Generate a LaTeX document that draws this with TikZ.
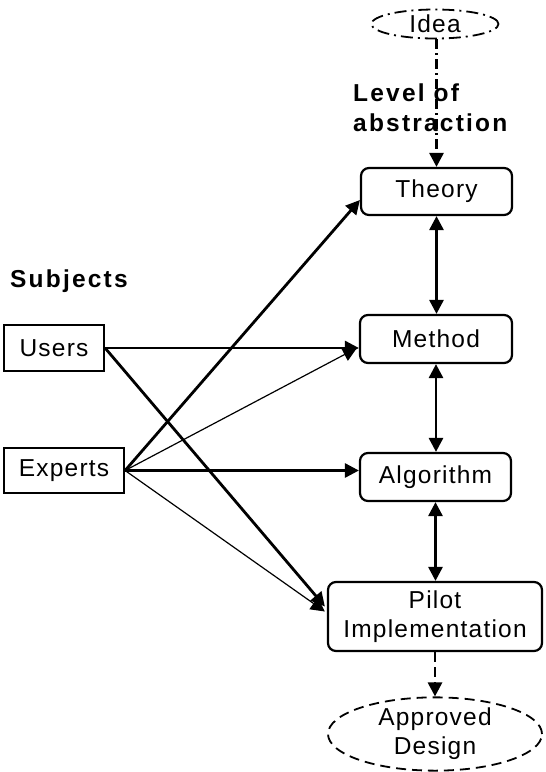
\documentclass[tikz,border=0pt]{standalone}
\usepackage{fontspec}
\setmainfont{Liberation Sans}
\newfontfamily\boxfont{Liberation Sans}[LetterSpace=5]
\newfontfamily\labfont{Liberation Sans}[LetterSpace=9]
\usetikzlibrary{arrows.meta,shapes.geometric,calc}
\begin{document}
\begin{tikzpicture}[x=1pt,y=-1pt,
  box/.style={draw,line width=2.2pt,minimum width=#1,inner sep=0pt,font=\boxfont\fontsize{24.5}{28}\selectfont,align=center},
  rbox/.style={box=#1,rounded corners=8pt},
  lab/.style={anchor=base west,inner sep=0pt,font=\labfont\bfseries\fontsize{24.5}{28}\selectfont},
  tip/.style={-{Triangle[length=14pt,width=14pt]}},
  dtip/.style={{Triangle[length=14pt,width=14pt]}-{Triangle[length=14pt,width=14pt]}},
  thickarr/.style={tip,line width=2.8pt},
  thinarr/.style={tip,line width=1.2pt},
  ell/.style={ellipse,draw,line width=1.8pt,inner sep=0pt,font=\boxfont\fontsize{24.5}{28}\selectfont,align=center}
]
\useasboundingbox (0,0) rectangle (546,772);

\node[ell,minimum width=127pt,minimum height=29pt,dash pattern=on 12pt off 5pt on 2pt off 5pt] (idea) at (435,24) {Idea};
\node[rbox=151pt,minimum height=47pt] (theory) at (436.5,191.5) {Theory};
\node[rbox=152pt,minimum height=48pt] (method) at (436,339) {Method};
\node[rbox=151pt,minimum height=48pt] (algo) at (435.5,477) {Algorithm};
\node[rbox=214pt,minimum height=69pt] (pilot) at (435,616.5) {Pilot\\[1pt]Implementation};
\node[ell,minimum width=214pt,minimum height=68pt,dash pattern=on 10pt off 6pt] (approved) at (435,734) {Approved\\[1pt]Design};
\node[box=100pt,minimum height=46pt] (users) at (54,348) {Users};
\node[box=120pt,minimum height=45pt] (experts) at (64,470.5) {Experts};

\node[lab] (subj) at (10,287) {Subjects};
\node[lab] (lev1) at (353,101) {Level of};
\node[lab] (lev2) at (353,131) {abstraction};

% vertical
\draw[thickarr,dash pattern=on 10pt off 4pt on 2pt off 4pt] (idea.south -| theory.north) -- (theory.north);
\draw[dtip,line width=2.8pt] (theory.south) -- (theory.south |- method.north);
\draw[dtip,line width=2.8pt] (method.south) -- (method.south |- algo.north);
\draw[dtip,line width=2.8pt] (algo.south) -- (algo.south |- pilot.north);
\draw[thickarr,dash pattern=on 10pt off 5pt] (pilot.south) -- (approved.north);

% subjects
\draw[thickarr] (users.east) -- (users.east -| method.west);
\draw[thickarr] (users.east) -- ($(pilot.west)+(-2,-10)$);
\draw[thickarr] (experts.east) -- ($(theory.west)+(0,8.5)$);
\draw[thinarr] (experts.east) -- ($(method.west)+(-2,9)$);
\draw[thickarr] (experts.east) -- (experts.east -| algo.west);
\draw[thinarr] (experts.east) -- ($(pilot.west)+(-2,-5)$);
\end{tikzpicture}
\end{document}
